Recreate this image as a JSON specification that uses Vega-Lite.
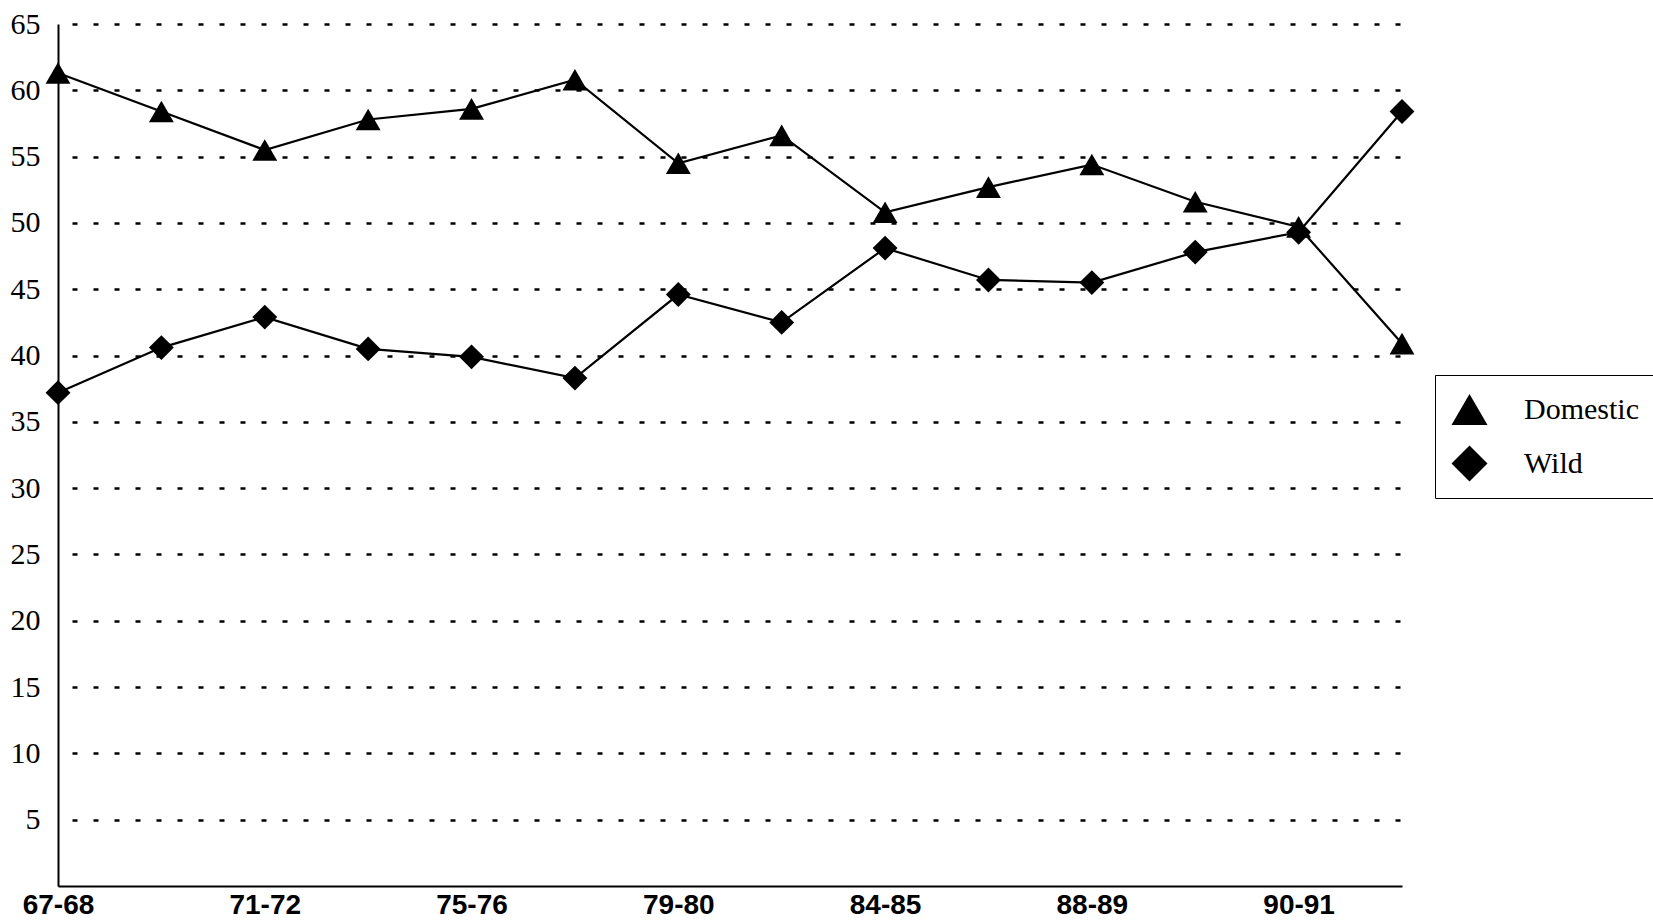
{
  "$schema": "https://vega.github.io/schema/vega-lite/v6.json",
  "autosize": {"type": "none"},
  "width": 1344,
  "height": 862,
  "padding": {"left": 58, "top": 24, "right": 251, "bottom": 35},
  "background": "white",
  "config": {
    "view": {"stroke": null},
    "axis": {"domainColor": "black", "domainWidth": 2, "ticks": false, "labelColor": "black"}
  },
  "data": {
    "values": [
      {"season": "67-68", "series": "Domestic", "pct": 61.3},
      {"season": "69-70", "series": "Domestic", "pct": 58.4},
      {"season": "71-72", "series": "Domestic", "pct": 55.5},
      {"season": "73-74", "series": "Domestic", "pct": 57.8},
      {"season": "75-76", "series": "Domestic", "pct": 58.6},
      {"season": "77-78", "series": "Domestic", "pct": 60.8},
      {"season": "79-80", "series": "Domestic", "pct": 54.5},
      {"season": "82-83", "series": "Domestic", "pct": 56.6},
      {"season": "84-85", "series": "Domestic", "pct": 50.8},
      {"season": "86-87", "series": "Domestic", "pct": 52.7},
      {"season": "88-89", "series": "Domestic", "pct": 54.4},
      {"season": "89-90", "series": "Domestic", "pct": 51.6},
      {"season": "90-91", "series": "Domestic", "pct": 49.7},
      {"season": "91-92", "series": "Domestic", "pct": 40.9},
      {"season": "67-68", "series": "Wild", "pct": 37.2},
      {"season": "69-70", "series": "Wild", "pct": 40.6},
      {"season": "71-72", "series": "Wild", "pct": 42.9},
      {"season": "73-74", "series": "Wild", "pct": 40.5},
      {"season": "75-76", "series": "Wild", "pct": 39.9},
      {"season": "77-78", "series": "Wild", "pct": 38.3},
      {"season": "79-80", "series": "Wild", "pct": 44.6},
      {"season": "82-83", "series": "Wild", "pct": 42.5},
      {"season": "84-85", "series": "Wild", "pct": 48.1},
      {"season": "86-87", "series": "Wild", "pct": 45.7},
      {"season": "88-89", "series": "Wild", "pct": 45.5},
      {"season": "89-90", "series": "Wild", "pct": 47.8},
      {"season": "90-91", "series": "Wild", "pct": 49.3},
      {"season": "91-92", "series": "Wild", "pct": 58.4}
    ]
  },
  "encoding": {
    "x": {
      "field": "season",
      "type": "ordinal",
      "sort": null,
      "scale": {"type": "point", "padding": 0},
      "axis": {
        "title": null,
        "values": ["67-68", "71-72", "75-76", "79-80", "84-85", "88-89", "90-91"],
        "labelAngle": 0,
        "labelFont": "Liberation Sans",
        "labelFontWeight": "bold",
        "labelFontSize": 28,
        "labelPadding": 5,
        "grid": false
      }
    },
    "y": {
      "field": "pct",
      "type": "quantitative",
      "scale": {"domain": [0, 65], "nice": false, "zero": true},
      "axis": {
        "title": null,
        "values": [5, 10, 15, 20, 25, 30, 35, 40, 45, 50, 55, 60, 65],
        "labelFont": "Liberation Serif",
        "labelFontSize": 30,
        "labelPadding": 18,
        "grid": true,
        "gridColor": "black",
        "gridWidth": 2.5,
        "gridDash": [5, 16],
        "gridDashOffset": -14
      }
    }
  },
  "layer": [
    {
      "mark": {"type": "line", "color": "black", "strokeWidth": 2.2},
      "encoding": {"detail": {"field": "series"}}
    },
    {
      "mark": {"type": "point", "filled": true, "color": "black", "opacity": 1, "size": 620},
      "encoding": {
        "shape": {
          "field": "series",
          "type": "nominal",
          "scale": {"domain": ["Domestic", "Wild"], "range": ["triangle-up", "diamond"]},
          "legend": {
            "title": null,
            "orient": "none",
            "legendX": 1377,
            "legendY": 351,
            "padding": 16,
            "strokeColor": "black",
            "fillColor": "white",
            "symbolSize": 1300,
            "symbolFillColor": "black",
            "symbolStrokeColor": "black",
            "symbolStrokeWidth": 0,
            "symbolOpacity": 1,
            "labelFont": "Liberation Serif",
            "labelFontSize": 30,
            "labelColor": "black",
            "labelOffset": 36,
            "rowPadding": 19,
            "labelLimit": 400,
            "encode": {"legend": {"update": {"strokeWidth": {"value": 2}}}}
          }
        }
      }
    }
  ]
}
